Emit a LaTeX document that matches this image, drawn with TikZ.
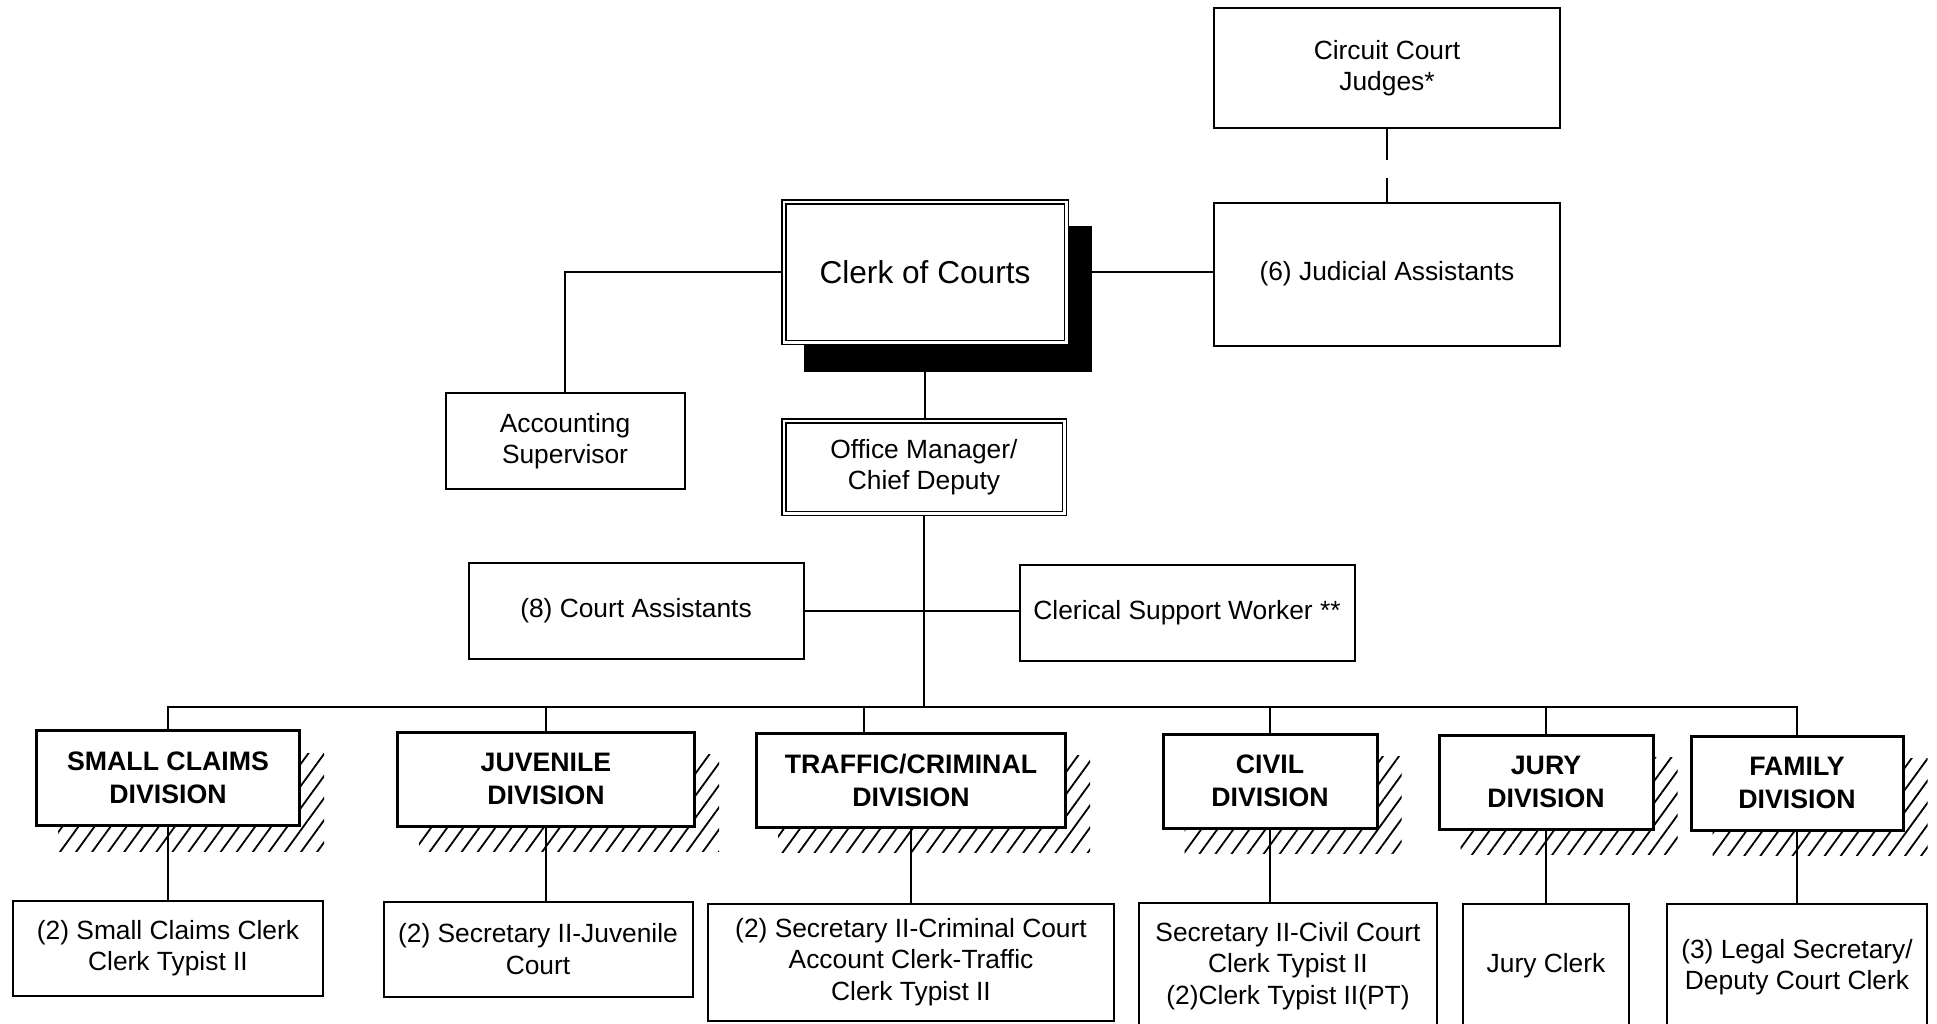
\documentclass[tikz,border=0pt]{standalone}
\usepackage{fontspec}
\setmainfont{Liberation Sans}
\usetikzlibrary{backgrounds,patterns.meta}
\tikzset{
  every node/.style={font=\fontsize{7.5}{9}\selectfont},
  dims/.style 2 args={minimum width=#1,minimum height=#2},
  post/.style={draw,line width=.2mm,fill=white,align=center,inner sep=2pt},
  head/.style={post,double,line width=.15mm,double distance=.25mm,outer sep=.275mm},
  division/.style={post,line width=.3mm,font=\fontsize{7.6}{9.4}\selectfont\bfseries},
  link/.style={draw,line width=.35pt},
  dashlink/.style={link,dash pattern=on 3.1mm off 1.8mm},
  hatch/.style={pattern={Lines[angle=54,distance=1.3mm,line width=.18mm]}}}

\begin{document}
\begin{tikzpicture}[x=.1mm,y=-.1mm]
\useasboundingbox (0,0) rectangle (1937,1023);
\clip (0,0) rectangle (1937,1023);
% top of the chart
\node[post,dims={34.6mm}{12mm}] (judges) at (1387,68) {Circuit Court\\Judges*};
\node[post,dims={34.6mm}{14.3mm}] (judicial) at (1387,274) {(6) Judicial Assistants};
\node[head,dims={28.25mm}{14.05mm},font=\fontsize{9}{11}\selectfont] (clerk) at (925,272) {Clerk of Courts};
\node[post,dims={23.9mm}{9.6mm}] (acct) at (565,441) {Accounting\\Supervisor};
\node[head,dims={28.05mm}{9.25mm}] (office) at (924,467) {Office Manager/\\Chief Deputy};
\node[post,dims={33.5mm}{9.6mm}] (court) at (636,611) {(8) Court Assistants};
\node[post,dims={33.5mm}{9.6mm}] (clerical) at (1187,613) {Clerical Support Worker **};
\coordinate (bus) at (925,707);
% divisions
\node[division,dims={26.3mm}{9.5mm}] (sc) at (168,778) {SMALL CLAIMS\\DIVISION};
\node[division,dims={29.7mm}{9.4mm}] (juv) at (546,779) {JUVENILE\\DIVISION};
\node[division,dims={30.9mm}{9.4mm}] (tc) at (911,780) {TRAFFIC/CRIMINAL\\DIVISION};
\node[division,dims={21.4mm}{9.4mm}] (civ) at (1270,781) {CIVIL\\DIVISION};
\node[division,dims={21.4mm}{9.4mm}] (jury) at (1546,782) {JURY\\DIVISION};
\node[division,dims={21.2mm}{9.4mm}] (fam) at (1797,783) {FAMILY\\DIVISION};
% staff of each division
\node[post,dims={31mm}{9.5mm}] (sc-sub) at (168,948) {(2) Small Claims Clerk\\Clerk Typist II};
\node[post,dims={30.9mm}{9.5mm}] (juv-sub) at (538,949) {(2) Secretary II-Juvenile\\Court};
\node[post,dims={40.6mm}{11.7mm}] (tc-sub) at (911,962) {(2) Secretary II-Criminal Court\\Account Clerk-Traffic\\Clerk Typist II};
\node[post,dims={29.8mm}{12.6mm}] (civ-sub) at (1288,966) {Secretary II-Civil Court\\Clerk Typist II\\(2)Clerk Typist II(PT)};
\node[post,dims={16.6mm}{12.4mm}] (jury-sub) at (1546,966) {Jury Clerk};
\node[post,dims={26mm}{12.6mm}] (fam-sub) at (1797,967) {(3) Legal Secretary/\\Deputy Court Clerk};

\begin{scope}[on background layer]
\fill ([shift={(23,27)}]clerk.north west) rectangle ([shift={(23,27)}]clerk.south east);
\foreach \n in {sc,juv,tc,civ,jury,fam}
  \path[hatch] ([shift={(23,24)}]\n.north west) rectangle ([shift={(23,24)}]\n.south east);
\end{scope}

\draw[dashlink] (judges) -- (judicial);
\draw[link] (clerk.east) -- (clerk.east -| judicial.west);
\draw[link] (clerk.west) -| (acct.north);
\draw[link] (clerk.south) -- (clerk.south |- office.north);
\draw[link] (office.south) -- (office.south |- bus);
\draw[link] (court.east) -- (court.east -| clerical.west);
\draw[link] (sc.north) |- (fam.north |- bus) -- (fam.north);
\foreach \n in {juv,civ,jury}
  \draw[link] (\n.north) -- (\n.north |- bus);
\coordinate (tc-in) at ([xshift=-4.7mm]tc.north);
\draw[link] (tc-in) -- (tc-in |- bus);
\foreach \n in {sc,juv,tc,civ,jury,fam}
  \draw[link] (\n.south) -- (\n.south |- \n-sub.north);
\end{tikzpicture}
\end{document}
